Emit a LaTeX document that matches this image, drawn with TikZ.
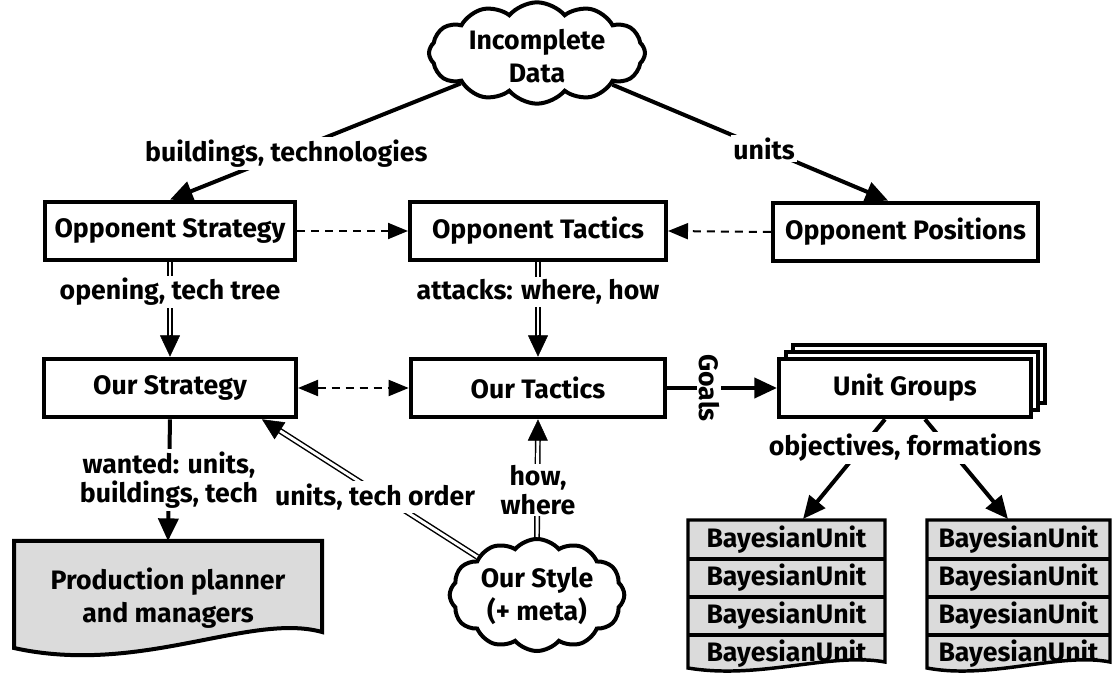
\documentclass[tikz,border=0pt]{standalone}
\usepackage{fontspec}
\setmainfont{Fira Sans}
\usetikzlibrary{shapes.symbols,shadows,arrows.meta,calc}
\begin{document}
\begin{tikzpicture}[x=0.75pt,y=-0.75pt,
  every node/.style={font=\fontsize{20}{24.5}\selectfont\bfseries},
  box/.style={draw, line width=3pt, fill=white, minimum height=44pt, inner sep=2pt},
  cloudn/.style={cloud, draw, line width=3pt, fill=white, cloud puffs=12, cloud puff arc=100, inner sep=0pt},
  lbl/.style={fill=white, inner sep=2pt, align=center, font=\fontsize{20}{22}\selectfont\bfseries},
  thk/.style={line width=3pt, -{Triangle[length=17pt,width=15pt]}},
  dsh/.style={line width=1.5pt, dash pattern=on 6pt off 4.5pt, -{Triangle[length=15pt,width=12pt]}},
  dblsty/.style={double, double distance=2.2pt, line width=1.1pt},
  tipsty/.style={line width=0.4pt, -{Triangle[length=16pt,width=15pt]}},
  stack/.style={line width=2.6pt, fill=black!14},
  celltext/.style={minimum height=28pt, inner sep=0pt},
]
\useasboundingbox (0,0) rectangle (1115,680);

% clouds
\node[cloudn, aspect=2.3, minimum width=162pt, minimum height=76pt] (data) at (537,53) {};
\node[align=center] (datat) at (537,56) {Incomplete\\Data};
\node[cloudn, aspect=1.7, minimum width=131pt, minimum height=84pt] (style) at (537,595) {};
\node[align=center] (stylet) at (537,596) {Our Style\\(+ meta)};

% boxes
\node[box, minimum width=188pt] (ostrat) at (170,231) {Opponent Strategy};
\node[box, minimum width=192pt] (otac) at (538,231) {Opponent Tactics};
\node[box, minimum width=199pt] (opos) at (905.5,232) {Opponent Positions};
\node[box, minimum width=189pt] (ustrat) at (170,388) {Our Strategy};
\node[box, minimum width=191pt] (utac) at (538,388) {Our Tactics};
\node[box, minimum width=189pt, double copy shadow={shadow xshift=5.2pt, shadow yshift=5.2pt}] (ugroups) at (905,388) {Unit Groups};

% production planner (wavy bottom)
\draw[line width=3pt, fill=black!14] (14,541) -- (322,541) -- (322,632) .. controls (250,612) and (140,676) .. (14,648) -- cycle;
\node[align=center, minimum width=231pt, minimum height=85pt, inner sep=0pt] (prod) at (168,598) {Production planner\\and managers};

% BayesianUnit stacks
\draw[stack] (688,520) -- (885,520) -- (885,662) .. controls (830,652) and (760,680) .. (688,668) -- cycle;
\draw[line width=2.6pt] (688,559) -- (885,559) (688,597) -- (885,597) (688,635) -- (885,635);
\draw[stack] (927,520) -- (1110,520) -- (1110,662) .. controls (1060,652) and (990,680) .. (927,668) -- cycle;
\draw[line width=2.6pt] (927,559) -- (1110,559) (927,597) -- (1110,597) (927,635) -- (1110,635);
\node[celltext] (bu1) at (786.5,540) {BayesianUnit};
\node[celltext] (bu2) at (786.5,578) {BayesianUnit};
\node[celltext] (bu3) at (786.5,616) {BayesianUnit};
\node[celltext] (bu4) at (786.5,654) {BayesianUnit};
\node[celltext] (bv1) at (1018.5,540) {BayesianUnit};
\node[celltext] (bv2) at (1018.5,578) {BayesianUnit};
\node[celltext] (bv3) at (1018.5,616) {BayesianUnit};
\node[celltext] (bv4) at (1018.5,654) {BayesianUnit};
\coordinate (bl) at (803,519);
\coordinate (br) at (1008,519);

% data arrows
\draw[thk] (data) -- (ostrat.north) node[lbl, pos=0.6] {buildings, technologies};
\draw[thk] (data) -- ([xshift=-13pt]opos.north) node[lbl, pos=0.55] {units};

% dashed
\draw[dsh] (ostrat.east) -- (otac.west);
\draw[dsh] (opos.west) -- (otac.east);
\draw[dsh, {Triangle[length=15pt,width=12pt]}-{Triangle[length=15pt,width=12pt]}] (ustrat.east) -- (utac.west);

% double arrows
\draw[dblsty, shorten >=14pt] (ostrat.south) -- (ustrat.north);
\draw[tipsty] ($(ustrat.north)!16pt!(ostrat.south)$) -- (ustrat.north);
\node[lbl] (l1) at (170,292) {opening, tech tree};

\draw[dblsty, shorten >=14pt] (otac.south) -- (utac.north);
\draw[tipsty] ($(utac.north)!16pt!(otac.south)$) -- (utac.north);
\node[lbl] (l2) at (538,292) {attacks: where, how};

\coordinate (sttgt) at ([xshift=-27pt]ustrat.south east);
\draw[dblsty, shorten >=14pt] (style) -- (sttgt);
\draw[tipsty] ($(sttgt)!16pt!(style)$) -- (sttgt);
\node[lbl] (l3) at (375,497) {units, tech order};

\draw[dblsty, shorten >=14pt] (style.north) -- (utac.south);
\draw[tipsty] ($(utac.south)!16pt!(style.north)$) -- (utac.south);
\node[lbl, inner sep=1pt] (l4) at (538,490) {how,\\where};

% production arrow
\draw[thk] (ustrat.south) -- (prod.north) node[lbl, pos=0.5] {wanted: units,\\buildings, tech};

% goals
\draw[thk] (utac.east) -- (ugroups.west) node[lbl, pos=0.38, rotate=-90, inner sep=1pt] {Goals};

% unit group arrows
\draw[thk] ([xshift=-15pt]ugroups.south) -- (bl);
\draw[thk] ([xshift=15pt]ugroups.south) -- (br);
\node[lbl] (l5) at (905,448) {objectives, formations};
\end{tikzpicture}
\end{document}
